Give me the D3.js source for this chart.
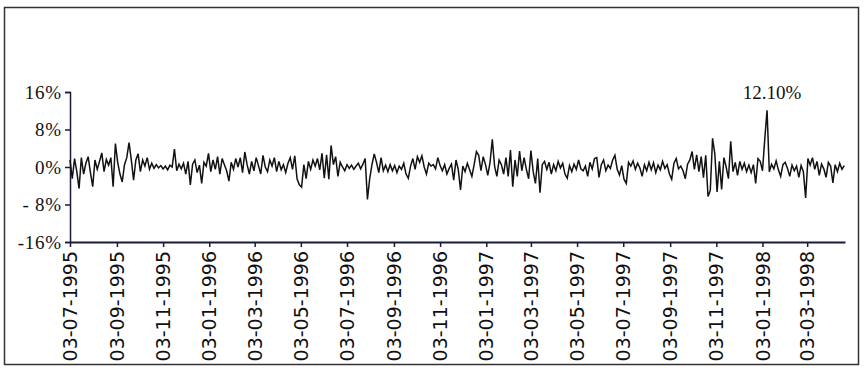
<!DOCTYPE html>
<html>
<head>
<meta charset="utf-8">
<script src="https://cdn.jsdelivr.net/npm/d3@7"></script>
<style>
  body { margin: 0; background: #fff; }
  svg { display: block; }
</style>
</head>
<body>
<div id="chart"></div>
<script>
// daily returns (%), one value every 3 days from 03-07-1995
const startDate = '03-07-1995'
const endDate = '22-04-1998'
const stepDays = 3
const returns = [
  1.5, -2.5, 1.8, -1.0, -4.6, 2.0, -1.5, 0.8, 2.2, -1.2,
  -4.2, 1.5, -0.5, 1.2, 3.0, -1.0, 1.6, 0.4, 2.0, -4.2,
  5.0, 1.0, -1.5, -3.2, 0.5, 2.0, 5.2, 1.5, -2.8, 1.5,
  2.8, -1.0, 1.5, 0.2, 2.0, -0.5, 0.8, -0.3, 0.5, -0.2,
  0.3, -0.4, 0.2, -0.6, 0.4, 0.0, 3.8, -0.8, 0.6, -0.4,
  0.8, -1.5, 1.2, -3.8, 0.6, 1.5, -1.2, 0.4, -3.5, 1.0,
  0.2, 2.9, -1.0, 1.5, -0.5, 2.2, -1.5, 1.8, 0.5, -0.8,
  -3.0, 1.0, -0.5, 1.8, 0.0, 2.0, -1.2, 3.2, 0.5, -1.5,
  1.2, -0.8, 2.0, 0.3, -1.5, 2.5, 0.0, -1.0, 1.5, 0.2,
  2.0, -1.0, 1.2, -0.6, 0.5, -1.2, 0.8, 2.0, -0.5, 2.4,
  -2.5, -3.8, -4.3, 0.5, -2.5, 1.2, -0.5, 1.5, 0.2, 1.8,
  -0.6, 2.9, -2.4, 2.6, -2.6, 4.6, 0.5, 2.2, -2.0, 1.0,
  0.0, -0.8, 0.5, -0.3, 0.4, -0.5, 0.2, 0.8, -0.4, 0.6,
  1.8, -6.9, -2.5, 0.5, 2.8, 1.0, -1.2, 2.0, -0.8, 0.4,
  -1.0, 0.5, -0.8, 0.3, -1.2, 0.2, -0.5, 0.8, -1.5, -2.4,
  0.2, 1.8, -0.5, 2.2, 1.0, 2.4, 0.0, -1.5, 0.8, 0.2,
  0.5, -0.4, 2.0, 0.3, -0.8, 0.5, -1.5, -0.3, 0.6, -2.8,
  1.5, -0.5, -4.9, 0.2, -1.0, 0.8, -0.6, -2.0, 0.5, 3.3,
  2.5, -0.8, 2.2, 0.5, -1.8, 1.0, 5.9, 0.2, -2.0, 1.5,
  0.5, -1.5, 2.0, -2.0, 3.6, -4.2, 1.5, -2.0, 3.4, -0.8,
  2.0, -0.5, -2.5, 3.5, -1.0, -3.5, 1.8, -5.5, 0.5, 1.2,
  -0.5, 1.0, -1.5, 0.5, -0.8, 1.2, -0.2, 0.8, -1.5, -2.4,
  0.3, -1.0, 0.6, -0.5, 1.5, -0.4, -0.8, 0.2, -2.0, 1.0,
  -0.4, 1.8, 2.0, -2.2, 0.5, 1.5, -0.8, 0.4, -0.3, 1.5,
  2.5, -0.5, -1.7, 0.3, -2.6, -3.5, 1.0, 0.2, 1.3, -0.5,
  0.8, -0.2, -2.0, 0.5, -0.8, 1.0, -0.6, 0.9, -1.2, 0.4,
  -0.6, 1.2, -0.3, 0.5, -1.5, -2.6, 0.8, 1.8, -0.4, 0.2,
  -0.8, -2.5, 0.6, 1.5, 3.3, -0.5, 2.6, -1.0, 2.2, -2.3,
  2.5, -6.3, -5.0, 6.1, 2.8, -5.3, 1.2, -4.8, 2.0, 0.0,
  -2.5, 5.5, -1.0, 1.0, -1.8, 1.2, -0.5, 0.8, -1.0, 0.4,
  -1.2, 0.5, -3.5, 1.8, 1.2, -0.8, 6.0, 12.1, -1.0, 0.6,
  -0.4, 1.3, -0.6, -2.0, 0.5, 1.0, -0.3, -2.0, 0.4, -0.8,
  0.2, -2.2, 0.3, -1.0, -6.6, 1.8, 0.4, 2.0, -0.5, 1.2,
  -1.8, 0.6, -0.4, -2.2, 1.0, 0.2, -3.4, 0.5, -1.0, 0.8,
  -0.5, 0.3
]
const yTicks = [16, 8, 0, -8, -16]
const yTickLabels = ['16%', '8%', '0%', '- 8%', '-16%']
const xTickLabels = [
  '03-07-1995', '03-09-1995', '03-11-1995', '03-01-1996', '03-03-1996',
  '03-05-1996', '03-07-1996', '03-09-1996', '03-11-1996', '03-01-1997',
  '03-03-1997', '03-05-1997', '03-07-1997', '03-09-1997', '03-11-1997',
  '03-01-1998', '03-03-1998'
]
const peakLabel = '12.10%'

const width = 865
const height = 370
const margin = {left: 70, top: 92, right: 20, bottom: 128}

const parse = d3.timeParse('%d-%m-%Y')
const start = parse(startDate)
const data = returns.map((v, i) => ({date: d3.timeDay.offset(start, i * stepDays), value: v}))

const svg = d3.select('#chart')
  .append('svg')
  .attr('width', width)
  .attr('height', height)

// outer frame
svg.append('rect')
  .attr('x', 4.5).attr('y', 7.5)
  .attr('width', 854).attr('height', 357)
  .attr('fill', 'none')
  .attr('stroke', '#333')
  .attr('stroke-width', 1.5)

const x = d3.scaleTime()
  .domain([start, parse(endDate)])
  .range([margin.left, width - margin.right])

const y = d3.scaleLinear()
  .domain([-16, 16])
  .range([height - margin.bottom, margin.top])

// y axis
const yAxis = svg.append('g')
  .attr('transform', `translate(${margin.left},0)`)
  .call(d3.axisLeft(y).tickValues(yTicks).tickSize(5).tickPadding(3)
    .tickFormat((d, i) => yTickLabels[i]))
yAxis.select('.domain').attr('stroke', '#1a1a3a').attr('stroke-width', 1.5)
yAxis.selectAll('.tick line').attr('stroke', '#1a1a3a').attr('stroke-width', 1.5)
yAxis.selectAll('text')
  .attr('font-family', '"Liberation Serif", serif')
  .attr('font-size', 19)
  .attr('letter-spacing', 0.8)
  .attr('fill', '#111')

// x axis
const xAxis = svg.append('g')
  .attr('transform', `translate(0,${y(-16)})`)
  .call(d3.axisBottom(x).tickValues(xTickLabels.map(parse)).tickSize(5).tickSizeOuter(0)
    .tickFormat(d3.timeFormat('%d-%m-%Y')))
xAxis.select('.domain').attr('stroke', '#1a1a3a').attr('stroke-width', 2)
xAxis.selectAll('.tick line').attr('stroke', '#1a1a3a').attr('stroke-width', 1.5)
xAxis.selectAll('text')
  .attr('font-family', '"DejaVu Sans", Verdana, sans-serif')
  .attr('font-size', 19)
  .attr('fill', '#111')
  .attr('text-anchor', 'end')
  .attr('dy', '0.35em')
  .attr('transform', 'translate(0,9) rotate(-90)')
  .attr('x', 0)
  .attr('y', 0)

// return series
const line = d3.line()
  .x(d => x(d.date))
  .y(d => y(d.value))

svg.append('path')
  .datum(data)
  .attr('fill', 'none')
  .attr('stroke', '#111')
  .attr('stroke-width', 1.5)
  .attr('stroke-linejoin', 'miter')
  .attr('d', line)

// label on the largest return
const peak = data.reduce((a, b) => (b.value > a.value ? b : a))
svg.append('text')
  .attr('x', x(peak.date) + 5)
  .attr('y', y(peak.value) - 11)
  .attr('text-anchor', 'middle')
  .attr('font-family', '"Liberation Serif", serif')
  .attr('font-size', 19)
  .attr('fill', '#111')
  .text(peakLabel)
</script>
</body>
</html>
